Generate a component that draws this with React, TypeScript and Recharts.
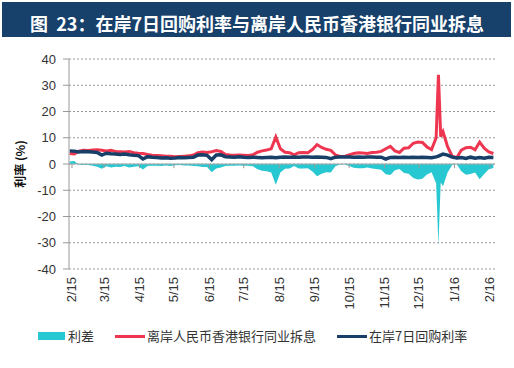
import {
  ComposedChart,
  Area,
  Line,
  XAxis,
  YAxis,
  CartesianGrid,
  ReferenceLine,
} from 'recharts';

// day offset from 2015-02-01
const days = [
  -2, 2, 6, 10, 14, 18, 22, 26, 30, 34, 38, 42, 46, 50, 54, 58, 62, 66, 70, 74,
  78, 82, 86, 90, 94, 98, 102, 106, 110, 114, 118, 122, 126, 130, 134, 138, 142, 146, 150, 154,
  158, 162, 166, 170, 174, 178, 182, 186, 190, 194, 198, 202, 206, 210, 214, 218, 222, 226, 230, 234,
  238, 242, 246, 250, 254, 258, 262, 266, 270, 274, 278, 282, 286, 290, 294, 298, 302, 306, 310, 314,
  318, 320, 322, 324, 328, 332, 336, 340, 344, 348, 352, 356, 360, 364, 368,
];

// 离岸人民币香港银行同业拆息
const cnhHibor = [
  4.0, 3.8, 4.9, 5.2, 5.1, 5.3, 5.4, 5.2, 5.0, 5.2, 4.8, 4.7, 4.6, 4.8, 4.3, 4.1, 4.0, 3.6, 3.3, 3.2,
  3.1, 3.0, 3.0, 2.8, 2.9, 3.0, 3.1, 3.4, 4.3, 4.6, 4.4, 4.7, 5.1, 4.8, 3.6, 3.4, 3.3, 3.4, 3.3, 3.2,
  3.5, 4.5, 5.0, 5.3, 5.8, 10.3, 5.8, 4.5, 4.3, 3.5, 4.3, 4.4, 4.3, 5.5, 7.4, 6.3, 5.6, 5.2, 3.5, 2.9,
  2.9, 3.5, 4.0, 4.3, 4.2, 4.0, 4.4, 4.5, 4.8, 5.8, 6.7, 5.0, 4.4, 6.0, 6.2, 7.9, 8.4, 8.2, 6.5, 5.5,
  10.0, 34.0, 10.4, 12.3, 6.6, 3.0, 2.4, 5.3, 6.2, 6.4, 5.4, 8.3, 6.0, 4.6, 4.0,
];

// 在岸7日回购利率
const repo7d = [
  5.0, 4.9, 4.6, 4.8, 4.7, 4.6, 4.4, 3.4, 4.1, 3.9, 3.8, 3.6, 3.8, 3.5, 3.3, 3.2, 1.9, 2.8, 2.6, 2.5,
  2.3, 2.4, 2.2, 2.3, 2.5, 2.4, 2.5, 2.6, 3.4, 3.5, 3.3, 1.6, 3.4, 3.5, 2.8, 2.7, 2.6, 2.8, 2.6, 2.5,
  2.6, 2.5, 2.4, 2.5, 2.6, 2.4, 2.6, 2.7, 2.6, 2.7, 2.6, 2.7, 2.7, 2.6, 2.7, 2.6, 2.5, 2.0, 2.6, 2.7,
  2.7, 2.7, 2.6, 2.7, 2.6, 2.7, 2.7, 2.6, 2.6, 1.9, 2.5, 2.6, 2.5, 2.6, 2.5, 2.6, 2.5, 2.6, 2.5, 2.4,
  2.7, 3.0, 3.4, 3.8, 3.4, 2.6, 2.3, 2.5, 2.1, 2.6, 2.2, 2.5, 2.2, 2.6, 2.5,
];

const monthDays = [0, 28, 59, 89, 120, 150, 181, 212, 242, 273, 303, 334, 365];
const monthLabels = ['2/15', '3/15', '4/15', '5/15', '6/15', '7/15', '8/15', '9/15', '10/15', '11/15', '12/15', '1/16', '2/16'];
const yTicks = [-40, -30, -20, -10, 0, 10, 20, 30, 40];

const CYAN = '#27C8D1';
const RED = '#EF3650';
const NAVY = '#173F67';
const FONT = '"Liberation Sans", Arial, sans-serif';
const CJK = '"Noto Sans CJK SC", sans-serif';

const data = days.map((d, i) => ({
  d,
  hibor: cnhHibor[i],
  repo: repo7d[i],
  spread: +(repo7d[i] - cnhHibor[i]).toFixed(2),
}));

const MonthTick = ({ x, y, payload }: any) => {
  const idx = monthDays.indexOf(payload.value);
  return (
    <text
      x={x}
      y={y}
      transform={`rotate(-90 ${x} ${y})`}
      textAnchor="end"
      dominantBaseline="central"
      fontSize={13}
      fontFamily={FONT}
      fill="#333"
    >
      {monthLabels[idx]}
    </text>
  );
};

const YLabel = ({ viewBox }: any) => {
  const cy = viewBox.y + viewBox.height / 2;
  return (
    <text
      x={19}
      y={cy}
      transform={`rotate(-90 19 ${cy})`}
      textAnchor="middle"
      dominantBaseline="central"
      fontSize={12}
      fontWeight="bold"
      fontFamily={CJK}
      fill="#111"
    >
      利率 (%)
    </text>
  );
};

const legendText = {
  position: 'absolute' as const,
  top: 327,
  fontSize: 13,
  lineHeight: '18px',
  fontFamily: CJK,
  color: '#333',
  whiteSpace: 'nowrap' as const,
};

export default function App() {
  return (
    <div style={{ position: 'absolute', left: 0, top: 0, width: 514, height: 368, background: '#fff' }}>
      <div style={{ position: 'absolute', left: 2, top: 2, width: 509, height: 35, background: '#17406B' }} />
      <div
        style={{
          position: 'absolute',
          left: 30,
          top: 12,
          lineHeight: '23px',
          fontSize: 18,
          fontWeight: 'bold',
          fontFamily: CJK,
          color: '#fff',
          whiteSpace: 'pre',
        }}
      >
        图  23：在岸7日回购利率与离岸人民币香港银行同业拆息
      </div>

      <ComposedChart
        width={514}
        height={368}
        data={data}
        margin={{ top: 59, right: 19, bottom: 59, left: 0 }}
      >
        <CartesianGrid vertical={false} stroke="#9a9a9a" strokeDasharray="2 2" />
        <XAxis
          dataKey="d"
          type="number"
          domain={[-2.6, 369.4]}
          ticks={monthDays}
          interval={0}
          height={40}
          axisLine={false}
          tickLine={false}
          tick={<MonthTick />}
        />
        <YAxis
          type="number"
          domain={[-40, 40]}
          ticks={yTicks}
          interval={0}
          width={69}
          axisLine={{ stroke: '#999' }}
          tickLine={{ stroke: '#999' }}
          tickMargin={7}
          tick={{ fontSize: 13, fontFamily: FONT, fill: '#333' }}
          label={<YLabel />}
        />
        <Area
          type="linear"
          dataKey="spread"
          fill={CYAN}
          fillOpacity={1}
          stroke="none"
          isAnimationActive={false}
        />
        <ReferenceLine y={0} stroke="#aaa" strokeWidth={1} />
        {monthDays.map((m) => (
          <ReferenceLine
            key={m}
            segment={[{ x: m, y: 0 }, { x: m, y: -1.6 }]}
            stroke="#999"
            strokeWidth={1}
          />
        ))}
        <Line
          type="linear"
          dataKey="hibor"
          stroke={RED}
          strokeWidth={3}
          dot={false}
          isAnimationActive={false}
        />
        <Line
          type="linear"
          dataKey="repo"
          stroke={NAVY}
          strokeWidth={3.5}
          dot={false}
          isAnimationActive={false}
        />
      </ComposedChart>

      <div style={{ position: 'absolute', left: 38, top: 332, width: 27, height: 8, background: CYAN }} />
      <div style={{ ...legendText, left: 68 }}>利差</div>
      <div style={{ position: 'absolute', left: 115, top: 335, width: 30, height: 3, background: RED }} />
      <div style={{ ...legendText, left: 147 }}>离岸人民币香港银行同业拆息</div>
      <div style={{ position: 'absolute', left: 337, top: 335, width: 30, height: 3, background: NAVY }} />
      <div style={{ ...legendText, left: 369 }}>在岸7日回购利率</div>
    </div>
  );
}
